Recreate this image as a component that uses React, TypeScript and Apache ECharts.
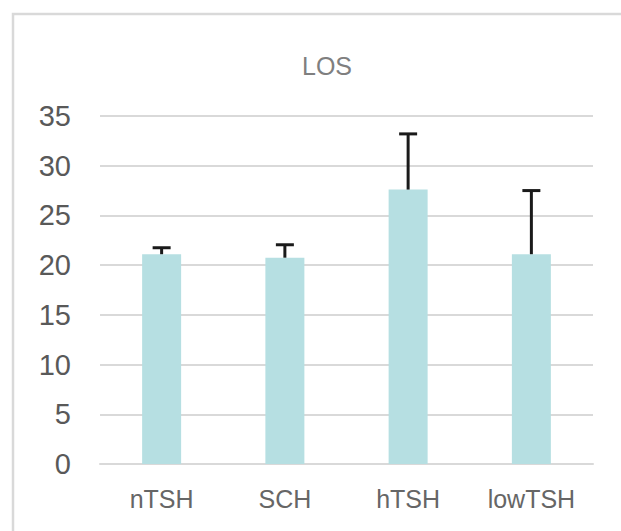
import React, { useEffect, useRef } from "react";
import * as echarts from "echarts";

const categories = ["nTSH", "SCH", "hTSH", "lowTSH"];
const meanValues = [21.1, 20.75, 27.6, 21.1];
const upperValues = [21.75, 22.05, 33.2, 27.5];
const yTicks = { min: 0, max: 35, interval: 5 };

export default function App() {
  const ref = useRef<HTMLDivElement>(null);
  useEffect(() => {
    document.body.style.margin = "0";
    const chart = echarts.init(ref.current!, null, { renderer: "svg" });
    const errData = categories.map((_, i) => [i, meanValues[i], upperValues[i]]);
    chart.setOption({
      animation: false,
      backgroundColor: "#ffffff",
      textStyle: { fontFamily: "Liberation Sans, Arial, sans-serif" },
      title: {
        text: "LOS",
        left: 322,
        top: 48,
        textAlign: "center",
        textStyle: { fontSize: 25, fontWeight: "normal", color: "#7f7f7f", fontFamily: "Liberation Sans, Arial, sans-serif" },
      },
      graphic: [
        {
          type: "rect",
          shape: { x: 13, y: 14, width: 700, height: 600 },
          style: { fill: "none", stroke: "#d9d9d9", lineWidth: 2.5 },
          silent: true,
          z: -1,
        },
      ],
      grid: { left: 100, right: 28, top: 116, bottom: 67 },
      xAxis: {
        type: "category",
        data: categories,
        axisLine: { show: true, lineStyle: { color: "#d9d9d9", width: 2 } },
        axisTick: { show: false },
        axisLabel: { margin: 22, fontSize: 25, color: "#666666" },
      },
      yAxis: {
        type: "value",
        min: yTicks.min,
        max: yTicks.max,
        interval: yTicks.interval,
        axisLine: { show: false },
        axisTick: { show: false },
        splitLine: { lineStyle: { color: "#d9d9d9", width: 2 } },
        axisLabel: { margin: 29, fontSize: 29, color: "#595959" },
      },
      series: [
        {
          type: "bar",
          data: meanValues,
          barWidth: 39,
          itemStyle: { color: "#b6dfe2" },
          z: 2,
        },
        {
          type: "custom",
          data: errData,
          z: 3,
          renderItem: (params: any, api: any) => {
            const x = api.value(0);
            const lo = api.coord([x, api.value(1)]);
            const hi = api.coord([x, api.value(2)]);
            const half = 9;
            const st = { stroke: "#1a1a1a", lineWidth: 3 };
            return {
              type: "group",
              children: [
                { type: "line", shape: { x1: lo[0], y1: lo[1], x2: hi[0], y2: hi[1] }, style: st },
                { type: "line", shape: { x1: hi[0] - half, y1: hi[1], x2: hi[0] + half, y2: hi[1] }, style: st },
              ],
            };
          },
        },
      ],
    });
    return () => chart.dispose();
  }, []);
  return <div ref={ref} style={{ width: 621, height: 531 }} />;
}
